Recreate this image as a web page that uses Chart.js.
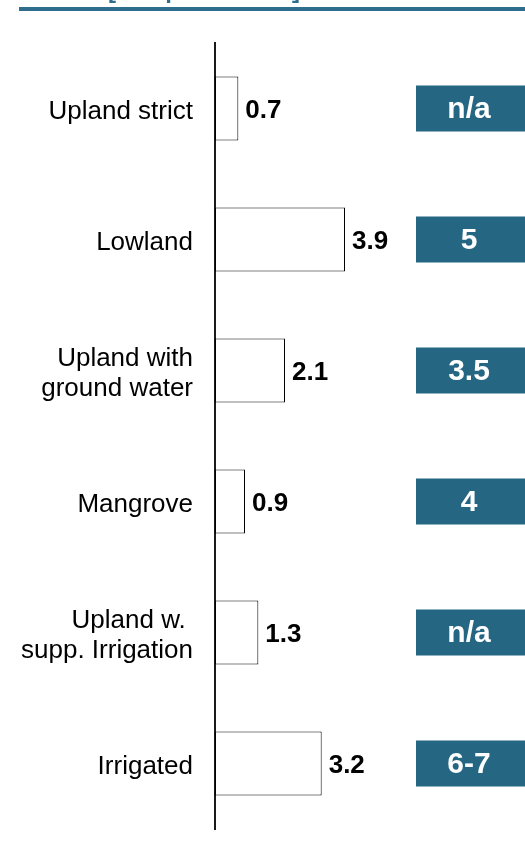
<!DOCTYPE html>
<html>
<head>
<meta charset="utf-8">
<script src="https://cdn.jsdelivr.net/npm/chart.js@4/dist/chart.umd.min.js"></script>
<style>
  html, body { margin: 0; padding: 0; background: #ffffff; }
  #wrap { width: 525px; height: 853px; position: relative; }
</style>
</head>
<body>
<div id="wrap"><canvas id="c" width="525" height="853"></canvas></div>
<script>
const categories = [
  "Upland strict",
  "Lowland",
  ["Upland with", "ground water"],
  "Mangrove",
  ["Upland w. ", "supp. Irrigation"],
  "Irrigated"
];
const yields = [0.7, 3.9, 2.1, 0.9, 1.3, 3.2];
const potentialLabels = ["n/a", "5", "3.5", "4", "n/a", "6-7"];
const titleText = "Yield [t/ha per season]";
const xMin = 0;
const xMax = 9;

const FONT = "'Liberation Sans', Arial, Helvetica, sans-serif";
const TEAL = "#256682";

const extrasPlugin = {
  id: "extras",
  afterDatasetsDraw(chart) {
    const ctx = chart.ctx;
    const meta = chart.getDatasetMeta(0);
    ctx.save();
    ctx.font = "bold 26px " + FONT;
    ctx.fillStyle = "#000000";
    ctx.textAlign = "left";
    ctx.textBaseline = "middle";
    meta.data.forEach((bar, i) => {
      ctx.fillText(yields[i].toFixed(1), bar.x + 7, bar.y + 2);
    });
    meta.data.forEach((bar, i) => {
      ctx.fillStyle = TEAL;
      ctx.fillRect(416, bar.y - 23, 109, 46);
      ctx.fillStyle = "#ffffff";
      ctx.font = "bold 30px " + FONT;
      ctx.textAlign = "center";
      ctx.fillText(potentialLabels[i], 469, bar.y + 1);
    });
    ctx.restore();
  },
  beforeDraw(chart) {
    const ctx = chart.ctx;
    ctx.save();
    ctx.fillStyle = "#2E6D8C";
    ctx.fillRect(19, 7, 506, 4);
    ctx.font = "bold 24px " + FONT;
    ctx.textAlign = "left";
    ctx.textBaseline = "alphabetic";
    const pre = ctx.measureText("Yield ").width;
    ctx.fillText(titleText, 108 - pre, -2);
    ctx.restore();
  }
};

new Chart(document.getElementById("c"), {
  type: "bar",
  data: {
    labels: categories,
    datasets: [{
      data: yields,
      backgroundColor: "#ffffff",
      borderColor: "#000000",
      borderWidth: 1,
      borderSkipped: false,
      barPercentage: 0.49,
      categoryPercentage: 1
    }]
  },
  options: {
    indexAxis: "y",
    responsive: false,
    animation: false,
    devicePixelRatio: 1,
    layout: { padding: { top: 43, bottom: 24, left: 0, right: 10 } },
    plugins: { legend: { display: false }, tooltip: { enabled: false }, title: { display: false } },
    scales: {
      x: {
        display: false,
        min: xMin,
        max: xMax
      },
      y: {
        grid: { display: false, drawTicks: false },
        border: { display: true, color: "#1a1a1a", width: 2 },
        ticks: {
          color: "#000000",
          padding: 22,
          labelOffset: 3,
          font: { family: FONT, size: 26, lineHeight: 1.15 }
        },
        afterFit(scale) {
          scale.width = 215;
          scale.paddingTop = 0;
          scale.paddingBottom = 0;
        }
      }
    }
  },
  plugins: [extrasPlugin]
});
</script>
</body>
</html>
